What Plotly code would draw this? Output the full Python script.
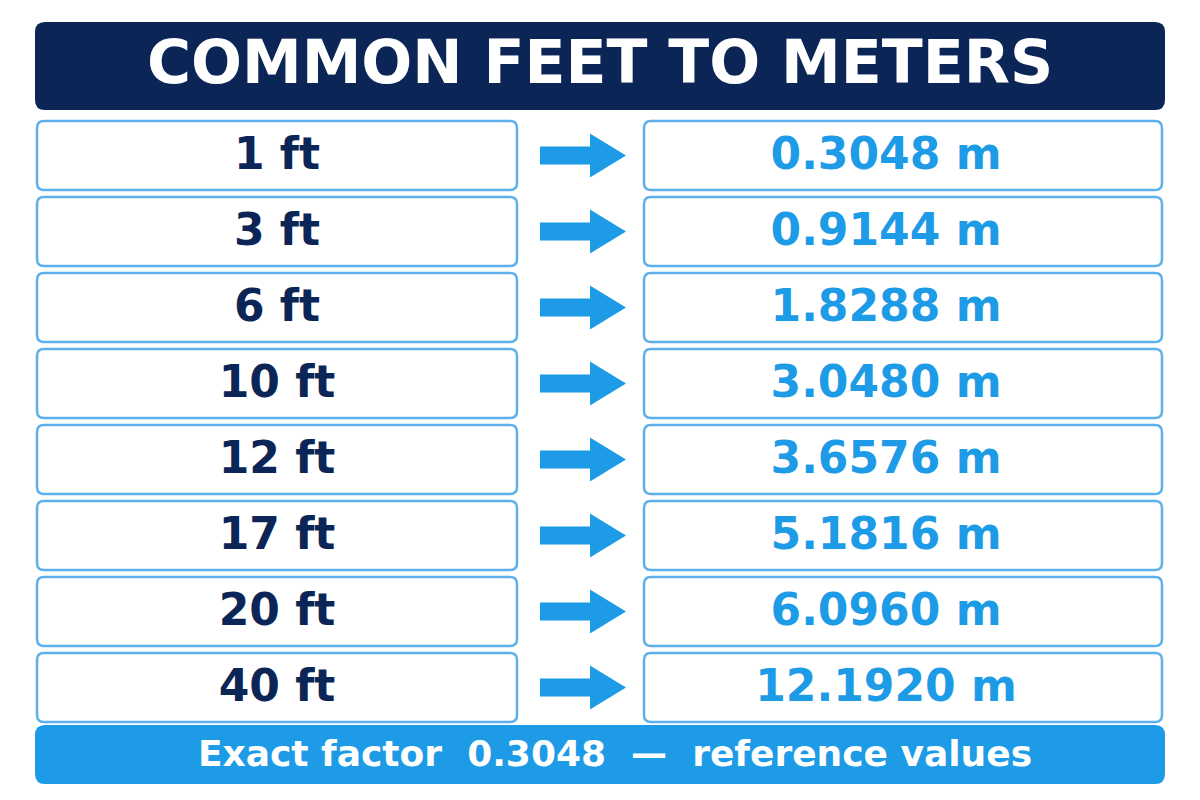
import plotly.graph_objects as go

title = "COMMON FEET TO METERS"
feet_labels = ["1 ft", "3 ft", "6 ft", "10 ft", "12 ft", "17 ft", "20 ft", "40 ft"]
meter_labels = ["0.3048 m", "0.9144 m", "1.8288 m", "3.0480 m", "3.6576 m",
                "5.1816 m", "6.0960 m", "12.1920 m"]
footer = "Exact factor  0.3048  \u2014  reference values"

navy = "#0b2556"
blue = "#1d9be6"
border = "#5eb0ea"

fig = go.Figure()
shapes = []


def rbox(x0, y0, x1, y1, r, fill, line, lw):
    p = (f"M{x0+r},{y0} L{x1-r},{y0} Q{x1},{y0} {x1},{y0+r} L{x1},{y1-r} "
         f"Q{x1},{y1} {x1-r},{y1} L{x0+r},{y1} Q{x0},{y1} {x0},{y1-r} "
         f"L{x0},{y0+r} Q{x0},{y0} {x0+r},{y0} Z")
    return dict(type="path", path=p, xref="x", yref="y", fillcolor=fill,
                line=dict(color=line, width=lw), layer="below")


shapes.append(rbox(35, 22, 1165, 110, 10, navy, navy, 0))
shapes.append(rbox(35, 725, 1165, 784, 10, blue, blue, 0))

row_top = 121
row_h = 69
step = 76
mids = []
for i in range(len(feet_labels)):
    y0 = row_top + i * step
    y1 = y0 + row_h
    ym = (y0 + y1) / 2
    mids.append(ym)
    shapes.append(rbox(37, y0, 517, y1, 7, "white", border, 2.5))
    shapes.append(rbox(644, y0, 1162, y1, 7, "white", border, 2.5))
    # arrow
    ap = (f"M540,{ym-9} L590,{ym-9} L590,{ym-22} L626,{ym} L590,{ym+22} "
          f"L590,{ym+9} L540,{ym+9} Z")
    shapes.append(dict(type="path", path=ap, xref="x", yref="y",
                       fillcolor=blue, line=dict(width=0)))

fig.add_trace(go.Scatter(x=[277] * len(feet_labels), y=[m + 2 for m in mids], mode="text",
                         text=feet_labels, hoverinfo="skip",
                         textfont=dict(family="DejaVu Sans", size=44, color=navy,
                                       weight="bold")))
fig.add_trace(go.Scatter(x=[886] * len(meter_labels), y=[m + 2 for m in mids], mode="text",
                         text=meter_labels, hoverinfo="skip",
                         textfont=dict(family="DejaVu Sans", size=44, color=blue,
                                       weight="bold")))
fig.add_trace(go.Scatter(x=[600], y=[68], mode="text", text=[title], hoverinfo="skip",
                         textfont=dict(family="DejaVu Sans", size=60, color="white",
                                       weight="bold")))
fig.add_trace(go.Scatter(x=[615], y=[757], mode="text", text=[footer], hoverinfo="skip",
                         textfont=dict(family="DejaVu Sans", size=36, color="white",
                                       weight="bold")))

fig.update_layout(
    width=1200, height=800, margin=dict(l=0, r=0, t=0, b=0),
    paper_bgcolor="white", plot_bgcolor="white", showlegend=False,
    shapes=shapes,
    xaxis=dict(range=[8, 1208], visible=False, fixedrange=True),
    yaxis=dict(range=[808, 8], visible=False, fixedrange=True),
)

fig.write_html("out.html")
